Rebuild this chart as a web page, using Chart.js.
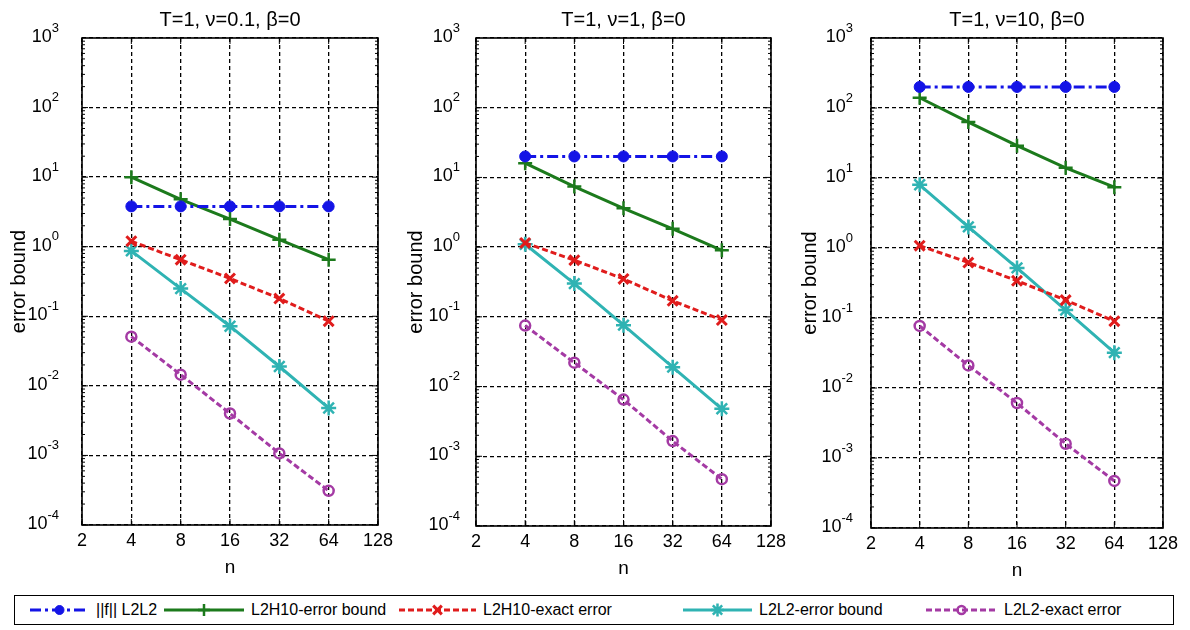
<!DOCTYPE html>
<html>
<head>
<meta charset="utf-8">
<script src="https://cdn.jsdelivr.net/npm/chart.js@4.4.1/dist/chart.umd.min.js"></script>
<style>
  body { margin: 0; background: #fff; }
  #wrap { position: relative; width: 1190px; height: 630px; font-family: "Liberation Sans", Arial, sans-serif; }
  #wrap canvas { position: absolute; left: 0; top: 0; }
  #legend { position: absolute; left: 14px; top: 595px; width: 1160px; height: 30px; border: 1.5px solid #000; box-sizing: border-box; background: #fff; font-size: 16px; }
  .item { position: absolute; top: 0; height: 27px; display: flex; align-items: center; white-space: nowrap; }
  .item svg { margin-right: 7px; }
</style>
</head>
<body>
<div id="wrap">
  <canvas id="p0" width="1190" height="630"></canvas>
  <canvas id="p1" width="1190" height="630"></canvas>
  <canvas id="p2" width="1190" height="630"></canvas>
  <div id="legend"></div>
</div>
<script>
// x: n (log2 axis), y: error bound (log10 axis)
const nValues = [4, 8, 16, 32, 64];
const xTicks = [2, 4, 8, 16, 32, 64, 128];
const yTicks = [1e-4, 1e-3, 1e-2, 1e-1, 1, 10, 100, 1000];
const panelTitles = ['T=1, ν=0.1, β=0', 'T=1, ν=1, β=0', 'T=1, ν=10, β=0'];
const seriesNames = ['||f|| L2L2', 'L2H10-error bound', 'L2H10-exact error', 'L2L2-error bound', 'L2L2-exact error'];

// nu = 0.1
const nu01NormF      = [3.8, 3.8, 3.8, 3.8, 3.8];
const nu01L2H10Bound = [10, 4.8, 2.5, 1.26, 0.65];
const nu01L2H10Exact = [1.2, 0.65, 0.35, 0.18, 0.085];
const nu01L2L2Bound  = [0.87, 0.25, 0.072, 0.019, 0.0048];
const nu01L2L2Exact  = [0.051, 0.0145, 0.004, 0.00107, 0.00031];
// nu = 1
const nu1NormF      = [20, 20, 20, 20, 20];
const nu1L2H10Bound = [16, 7.4, 3.6, 1.83, 0.9];
const nu1L2H10Exact = [1.15, 0.65, 0.35, 0.17, 0.09];
const nu1L2L2Bound  = [1.1, 0.3, 0.076, 0.019, 0.0048];
const nu1L2L2Exact  = [0.075, 0.022, 0.0065, 0.00165, 0.00047];
// nu = 10
const nu10NormF      = [200, 200, 200, 200, 200];
const nu10L2H10Bound = [140, 63, 29, 14, 7.4];
const nu10L2H10Exact = [1.08, 0.62, 0.34, 0.18, 0.09];
const nu10L2L2Bound  = [8, 2.0, 0.52, 0.13, 0.032];
const nu10L2L2Exact  = [0.077, 0.021, 0.0061, 0.0016, 0.00047];

const panelSeries = [
  [nu01NormF, nu01L2H10Bound, nu01L2H10Exact, nu01L2L2Bound, nu01L2L2Exact],
  [nu1NormF, nu1L2H10Bound, nu1L2H10Exact, nu1L2L2Bound, nu1L2L2Exact],
  [nu10NormF, nu10L2H10Bound, nu10L2H10Exact, nu10L2L2Bound, nu10L2L2Exact]
];

const styles = [
  { color: '#1414e6', dash: [11, 4, 3, 4], point: 'circle', radius: 5.5, fill: '#1414e6', pw: 1 },
  { color: '#1c7a1c', dash: [], point: 'cross', radius: 7, fill: '#1c7a1c', pw: 2.5 },
  { color: '#e01c1c', dash: [6, 3], point: 'crossRot', radius: 7, fill: '#e01c1c', pw: 3 },
  { color: '#2fb3b3', dash: [], point: 'star', radius: 7.5, fill: '#2fb3b3', pw: 2.5 },
  { color: '#a43aa4', dash: [6, 3], point: 'circle', radius: 5, fill: 'rgba(0,0,0,0)', pw: 2.5 }
];

// plot-area boxes in page pixels
const boxes = [
  { left: 82, right: 378, top: 38, bottom: 525, labelGap: 23, titleGap: 63 },
  { left: 476, right: 771, top: 38, bottom: 526, labelGap: 16, titleGap: 60 },
  { left: 871, right: 1163, top: 38, bottom: 528, labelGap: 18, titleGap: 61 }
];
const FONT = '"Liberation Sans", Arial, sans-serif';
const X_AXIS_H = 54;

const framePlugin = {
  id: 'frame',
  afterDraw(chart, args, opts) {
    const { ctx, chartArea: a, scales: { x, y } } = chart;
    ctx.save();
    ctx.strokeStyle = '#000';
    ctx.lineWidth = 1;
    ctx.setLineDash([]);
    ctx.beginPath();
    for (let d = -4; d < 3; d++) {
      for (let k = 1; k < 10; k++) {
        const py = y.getPixelForValue(k * Math.pow(10, d));
        const len = k === 1 ? 6 : 3;
        ctx.moveTo(a.left, py); ctx.lineTo(a.left + len, py);
        ctx.moveTo(a.right, py); ctx.lineTo(a.right - len, py);
      }
    }
    xTicks.forEach(v => {
      const px = x.getPixelForValue(v);
      ctx.moveTo(px, a.top); ctx.lineTo(px, a.top + 6);
      ctx.moveTo(px, a.bottom); ctx.lineTo(px, a.bottom - 6);
    });
    ctx.stroke();
    ctx.lineWidth = 1.6;
    ctx.strokeRect(a.left, a.top, a.right - a.left, a.bottom - a.top);

    ctx.fillStyle = '#000';
    ctx.textBaseline = 'middle';
    ctx.textAlign = 'center';
    ctx.font = '20px ' + FONT;
    ctx.fillText(opts.title, (a.left + a.right) / 2, 20);

    ctx.textAlign = 'right';
    yTicks.forEach(v => {
      const py = y.getPixelForValue(v);
      const exp = String(Math.round(Math.log10(v)));
      const rx = a.left - opts.labelGap;
      ctx.font = '13px ' + FONT;
      const ew = ctx.measureText(exp).width;
      ctx.fillText(exp, rx, py - 10);
      ctx.font = '18px ' + FONT;
      ctx.fillText('10', rx - ew, py - 1);
    });

    ctx.translate(a.left - opts.titleGap, (a.top + a.bottom) / 2);
    ctx.rotate(-Math.PI / 2);
    ctx.textAlign = 'center';
    ctx.font = '20px ' + FONT;
    ctx.fillText('error bound', 0, 0);
    ctx.restore();
  }
};

function makeDatasets(series) {
  return series.map((vals, i) => {
    const s = styles[i];
    return {
      label: seriesNames[i],
      data: nValues.map((n, j) => ({ x: n, y: vals[j] })),
      borderColor: s.color,
      backgroundColor: s.fill,
      borderWidth: 3,
      borderDash: s.dash,
      pointStyle: s.point,
      pointRadius: s.radius,
      pointBorderWidth: s.pw,
      pointBorderColor: s.color,
      pointBackgroundColor: s.fill,
      tension: 0,
      fill: false
    };
  });
}

boxes.forEach((b, p) => {
  new Chart(document.getElementById('p' + p), {
    type: 'line',
    data: { datasets: makeDatasets(panelSeries[p]) },
    plugins: [framePlugin],
    options: {
      responsive: false,
      animation: false,
      events: [],
      layout: { padding: { left: b.left, right: 1190 - b.right, top: b.top, bottom: 630 - b.bottom - X_AXIS_H } },
      plugins: {
        legend: { display: false },
        tooltip: { enabled: false },
        frame: { title: panelTitles[p], labelGap: b.labelGap, titleGap: b.titleGap }
      },
      scales: {
        x: {
          type: 'logarithmic',
          min: 2, max: 128,
          afterBuildTicks: s => { s.ticks = xTicks.map(v => ({ value: v })); },
          afterFit: s => { s.height = X_AXIS_H; },
          ticks: { callback: v => String(v), autoSkip: false, maxRotation: 0, padding: 5, color: '#000', font: { family: FONT, size: 18 } },
          grid: { color: '#000', lineWidth: 1.3, drawTicks: false },
          border: { display: false, dash: [4, 3] },
          title: { display: true, text: 'n', color: '#000', padding: 0, font: { family: FONT, size: 19 } }
        },
        y: {
          type: 'logarithmic',
          min: 1e-4, max: 1e3,
          afterBuildTicks: s => { s.ticks = yTicks.map(v => ({ value: v })); },
          afterFit: s => { s.width = 0; },
          ticks: { display: false },
          grid: { color: '#000', lineWidth: 1.3, drawTicks: false },
          border: { display: false, dash: [4, 3] }
        }
      }
    }
  });
});

// legend row under the three panels
const legendItems = [
  { left: 15, line: 59 }, { left: 149, line: 80 }, { left: 384, line: 77 },
  { left: 668, line: 69 }, { left: 911, line: 71 }
];
function markerSvg(s, cx, cy) {
  const r = s.radius - 1;
  if (s.point === 'circle') {
    return `<circle cx="${cx}" cy="${cy}" r="${r}" fill="${s.fill}" stroke="${s.color}" stroke-width="${s.pw}"/>`;
  }
  const plus = `M${cx - r} ${cy}H${cx + r}M${cx} ${cy - r}V${cy + r}`;
  const d = r * 0.72;
  const cross = `M${cx - d} ${cy - d}L${cx + d} ${cy + d}M${cx - d} ${cy + d}L${cx + d} ${cy - d}`;
  const path = s.point === 'cross' ? plus : s.point === 'crossRot' ? cross : plus + cross;
  return `<path d="${path}" stroke="${s.color}" stroke-width="${s.pw}" fill="none"/>`;
}
const legend = document.getElementById('legend');
legendItems.forEach((it, i) => {
  const s = styles[i];
  const w = it.line, h = 20;
  const div = document.createElement('div');
  div.className = 'item';
  div.style.left = it.left + 'px';
  div.innerHTML = `<svg width="${w}" height="${h}"><line x1="0" y1="${h / 2}" x2="${w}" y2="${h / 2}" stroke="${s.color}" stroke-width="3" stroke-dasharray="${s.dash.join(' ')}"/>${markerSvg(s, w / 2, h / 2)}</svg><span>${seriesNames[i]}</span>`;
  legend.appendChild(div);
});
</script>
</body>
</html>
